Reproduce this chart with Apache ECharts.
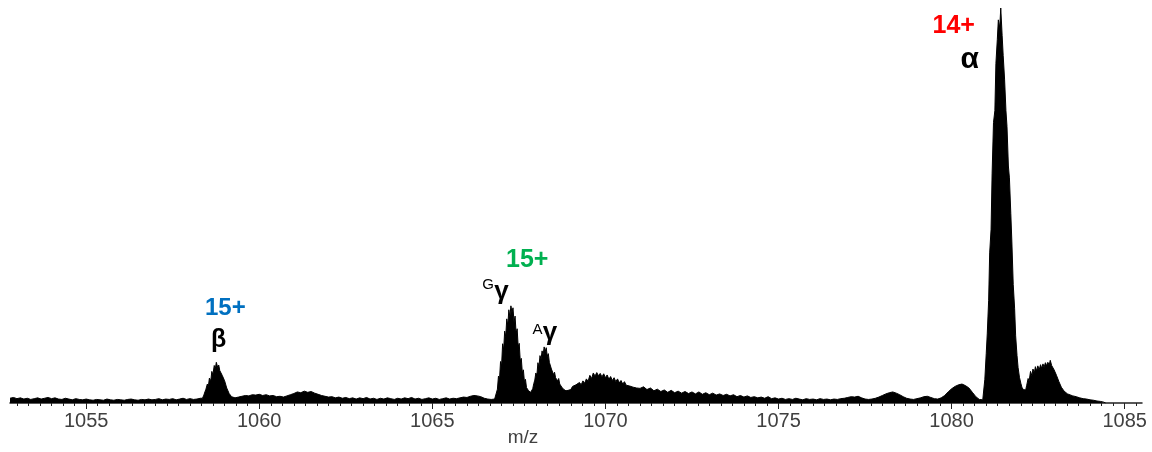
<!DOCTYPE html>
<html>
<head>
<meta charset="utf-8">
<script src="https://cdn.jsdelivr.net/npm/echarts@6/dist/echarts.min.js"></script>
<style>
  html, body { margin: 0; padding: 0; background: #ffffff; }
  #chart { width: 1152px; height: 452px; }
</style>
</head>
<body>
<div id="chart"></div>
<script>
// Mass spectrum of globin chains: [m/z, relative intensity (%)]
const baselineLeft = [
  [1052.8,1.2],[1052.9,1.4],[1053.0,1.1],[1053.1,1.3],[1053.2,1.0],[1053.3,1.2],[1053.4,0.9],[1053.5,1.1],
  [1053.6,1.3],[1053.7,1.0],[1053.8,1.2],[1053.9,1.4],[1054.0,1.1],[1054.1,1.3],[1054.2,1.0],[1054.3,0.9],
  [1054.4,1.2],[1054.5,1.0],[1054.6,0.8],[1054.7,1.1],[1054.8,0.9],[1054.9,0.8],[1055.0,1.0],[1055.1,0.8],
  [1055.2,0.7],[1055.3,0.9],[1055.4,0.8],[1055.5,0.7],[1055.6,1.0],[1055.7,0.8],[1055.8,0.7],[1055.9,0.9],
  [1056.0,0.8],[1056.1,0.7],[1056.2,0.9],[1056.3,1.0],[1056.4,0.8],[1056.5,0.7],[1056.6,0.9],[1056.7,0.8],
  [1056.8,1.0],[1056.9,0.8],[1057.0,0.9],[1057.1,1.1],[1057.2,0.8],[1057.3,1.0],[1057.4,0.9],[1057.5,1.1],
  [1057.6,0.8],[1057.7,1.0],[1057.8,1.2],[1057.9,0.9],[1058.0,1.1],[1058.1,0.9],[1058.2,1.0],[1058.3,1.2]
];

// beta chain, 15+
const betaPeak = [
  [1058.36,1.2],[1058.40,2.0],[1058.43,2.8],[1058.46,3.5],[1058.50,4.8],[1058.53,4.2],[1058.56,6.3],
  [1058.60,5.6],[1058.63,8.0],[1058.66,7.1],[1058.70,9.5],[1058.73,8.6],[1058.76,10.3],[1058.80,9.0],
  [1058.83,9.6],[1058.86,8.2],[1058.90,8.6],[1058.93,7.0],[1058.96,7.3],[1059.00,5.6],[1059.03,5.2],
  [1059.06,3.8],[1059.10,3.4],[1059.13,2.4],[1059.16,2.2],[1059.20,1.6],[1059.25,1.3]
];

const baselineMid = [
  [1059.3,1.3],[1059.4,1.5],[1059.5,1.7],[1059.6,1.9],[1059.7,1.8],[1059.8,2.1],[1059.9,2.0],[1060.0,2.2],
  [1060.1,1.9],[1060.2,2.1],[1060.3,1.8],[1060.4,1.9],[1060.5,1.6],[1060.6,1.7],[1060.7,1.5],[1060.8,1.8],
  [1060.9,2.1],[1061.0,2.4],[1061.1,2.8],[1061.2,2.6],[1061.3,3.0],[1061.4,2.7],[1061.5,2.9],[1061.6,2.5],
  [1061.7,2.2],[1061.8,1.9],[1061.9,1.7],[1062.0,1.5],[1062.1,1.6],[1062.2,1.3],[1062.3,1.5],[1062.4,1.2],
  [1062.5,1.4],[1062.6,1.1],[1062.7,1.3],[1062.8,1.0],[1062.9,1.3],[1063.0,1.1],[1063.1,1.4],[1063.2,1.0],
  [1063.3,1.2],[1063.4,0.9],[1063.5,1.2],[1063.6,1.0],[1063.7,1.3],[1063.8,1.1],[1063.9,0.9],[1064.0,1.2],
  [1064.1,1.0],[1064.2,1.3],[1064.3,1.1],[1064.4,1.4],[1064.5,1.0],[1064.6,1.2],[1064.7,0.9],[1064.8,1.1],
  [1064.9,1.3],[1065.0,1.0],[1065.1,1.2],[1065.2,0.9],[1065.3,1.1],[1065.4,1.3],[1065.5,1.0],[1065.6,1.2],
  [1065.7,1.1],[1065.8,1.3],[1065.9,1.5],[1066.0,1.4],[1066.1,1.7],[1066.2,1.9],[1066.3,1.8],[1066.4,1.6],
  [1066.5,1.2],[1066.6,1.0],[1066.7,0.9],[1066.8,1.0]
];

// G-gamma and A-gamma chains, 15+
const gammaPeaks = [
  [1066.85,0.8],[1066.88,3.5],[1066.91,6.8],[1066.94,5.9],[1066.97,10.5],[1067.00,9.4],[1067.03,15.0],
  [1067.06,13.5],[1067.09,18.2],[1067.12,16.8],[1067.15,21.3],[1067.18,19.6],[1067.21,23.6],[1067.24,21.8],
  [1067.27,24.6],[1067.30,22.9],[1067.33,24.1],[1067.36,20.4],[1067.39,22.0],[1067.42,17.6],[1067.45,18.8],
  [1067.48,14.2],[1067.51,15.1],[1067.54,10.6],[1067.57,11.3],[1067.60,7.6],[1067.63,8.4],[1067.66,5.4],
  [1067.69,6.0],[1067.72,3.9],[1067.75,4.3],[1067.78,3.1],[1067.81,3.4],[1067.84,2.7],[1067.87,3.0],
  [1067.90,3.6],[1067.93,4.9],[1067.96,5.8],[1067.99,7.6],[1068.02,7.0],[1068.05,10.2],[1068.08,9.1],
  [1068.11,12.0],[1068.14,11.0],[1068.17,13.2],[1068.20,12.1],[1068.23,14.2],[1068.26,13.0],[1068.29,14.0],
  [1068.32,11.8],[1068.35,12.5],[1068.38,10.3],[1068.41,10.6],[1068.44,8.6],[1068.47,9.0],[1068.50,7.2],
  [1068.53,7.8],[1068.56,6.4],[1068.59,6.9],[1068.62,5.6],[1068.65,6.2],[1068.68,4.8],[1068.71,5.0],
  [1068.74,4.0],[1068.77,4.3],[1068.80,3.4],[1068.83,3.7],[1068.86,3.1],[1068.89,3.5],[1068.92,3.2],
  [1068.95,3.7]
];

const adductHump = [
  [1069.00,3.4],[1069.05,4.2],[1069.10,3.7],[1069.15,4.6],[1069.20,4.1],[1069.25,5.2],[1069.30,4.6],
  [1069.35,5.6],[1069.40,5.0],[1069.45,6.1],[1069.50,5.5],[1069.55,7.0],[1069.60,6.2],[1069.65,7.6],
  [1069.70,6.8],[1069.75,7.7],[1069.80,6.9],[1069.85,7.5],[1069.90,6.6],[1069.95,7.4],[1070.00,6.4],
  [1070.05,7.1],[1070.10,6.0],[1070.15,6.7],[1070.20,5.7],[1070.25,6.4],[1070.30,5.4],[1070.35,6.1],
  [1070.40,5.1],[1070.45,5.7],[1070.50,4.8],[1070.55,5.4],[1070.60,4.5],[1070.65,5.0],[1070.70,4.3],
  [1070.75,4.8],[1070.80,4.0],[1070.85,4.5],[1070.90,3.8],[1070.95,4.2]
];

const baselineRight = [
  [1071.0,3.7],[1071.1,4.1],[1071.2,3.4],[1071.3,3.8],[1071.4,3.1],[1071.5,3.5],[1071.6,2.9],[1071.7,3.3],
  [1071.8,2.7],[1071.9,3.2],[1072.0,2.6],[1072.1,3.0],[1072.2,2.5],[1072.3,2.9],[1072.4,2.4],[1072.5,2.8],
  [1072.6,2.3],[1072.7,2.8],[1072.8,2.2],[1072.9,2.6],[1073.0,2.1],[1073.1,2.5],[1073.2,2.0],[1073.3,2.3],
  [1073.4,1.9],[1073.5,2.2],[1073.6,1.8],[1073.7,2.1],[1073.8,1.6],[1073.9,1.9],[1074.0,1.5],[1074.1,1.8],
  [1074.2,1.4],[1074.3,1.6],[1074.4,1.3],[1074.5,1.5],[1074.6,1.2],[1074.7,1.6],[1074.8,1.1],[1074.9,1.3],
  [1075.0,1.0],[1075.1,1.2],[1075.2,0.9],[1075.3,1.1],[1075.4,0.9],[1075.5,1.2],[1075.6,1.0],[1075.7,0.8],
  [1075.8,1.1],[1075.9,0.9],[1076.0,1.0],[1076.1,0.8],[1076.2,1.1],[1076.3,0.9],[1076.4,1.0],[1076.5,0.8],
  [1076.6,1.0],[1076.7,0.9],[1076.8,1.1],[1076.9,1.2],[1077.0,1.4],[1077.1,1.6],[1077.2,1.5],[1077.3,1.7],
  [1077.4,1.3],[1077.5,1.0],[1077.6,0.9],[1077.7,1.0],[1077.8,1.2],[1077.9,1.5],[1078.0,1.9],[1078.1,2.3],
  [1078.2,2.6],[1078.3,2.8],[1078.4,2.5],[1078.5,2.1],[1078.6,1.6],[1078.7,1.2],[1078.8,1.0],[1078.9,0.9],
  [1079.0,1.1],[1079.1,1.3],[1079.2,1.6],[1079.3,1.7],[1079.4,1.4],[1079.5,1.1],[1079.6,1.0],[1079.7,1.3],
  [1079.8,1.9],[1079.9,2.8],[1080.0,3.6],[1080.1,4.2],[1080.2,4.6],[1080.3,4.8],[1080.4,4.4],[1080.5,3.8],
  [1080.6,2.7],[1080.7,1.6],[1080.8,0.9],[1080.9,0.8]
];

// alpha chain, 14+, with its adduct shoulder
const alphaPeak = [
  [1080.93,1.0],[1080.96,6.0],[1081.00,12.5],[1081.03,17.5],[1081.07,26.0],[1081.10,38.0],[1081.14,44.0],
  [1081.17,58.0],[1081.21,71.0],[1081.25,74.0],[1081.28,86.0],[1081.32,92.0],[1081.35,97.0],[1081.39,95.0],
  [1081.42,100.0],[1081.46,93.0],[1081.49,88.0],[1081.53,82.0],[1081.57,74.0],[1081.60,70.0],[1081.64,60.0],
  [1081.67,57.0],[1081.71,48.0],[1081.74,41.0],[1081.78,30.0],[1081.82,24.0],[1081.85,17.0],[1081.89,12.0],
  [1081.92,9.0],[1081.96,6.5],[1082.00,5.0],[1082.03,4.0],[1082.07,3.4],[1082.10,3.0],[1082.14,3.3],
  [1082.17,4.5],[1082.21,6.2],[1082.24,5.6],[1082.28,8.0],[1082.32,6.9],[1082.35,8.6],[1082.39,7.6],
  [1082.42,9.2],[1082.46,8.1],[1082.49,9.4],[1082.53,8.4],[1082.57,9.7],[1082.60,8.8],[1082.64,9.9],
  [1082.67,9.0],[1082.71,10.2],[1082.74,9.4],[1082.78,10.3],[1082.82,9.6],[1082.85,10.8],[1082.89,9.5],
  [1082.92,9.6],[1082.96,8.4],[1082.99,8.0],[1083.03,7.0],[1083.07,6.5],[1083.10,5.4],[1083.14,4.9],
  [1083.17,4.0],[1083.21,3.5],[1083.25,3.0],[1083.30,2.6],[1083.35,2.3],[1083.40,2.0],[1083.50,1.8],
  [1083.60,1.6],[1083.70,1.3],[1083.80,1.1],[1083.90,1.0],[1084.00,0.8],[1084.10,0.7],[1084.20,0.5],
  [1084.30,0.4],[1084.40,0.2],[1084.45,0.0]
];

const tickLabels = [1055, 1060, 1065, 1070, 1075, 1080, 1085];
const axisName = 'm/z';

const spectrum = [].concat(baselineLeft, betaPeak, baselineMid, gammaPeaks,
                           adductHump, baselineRight, alphaPeak);

const X_MIN = 1052.8, X_MAX = 1085.5;

// minor ticks every 1/3 m/z between the labelled ticks
const minorTicks = [];
for (let k = -6; k <= 91; k++) {
  if (k % 15 === 0) continue;
  const v = Math.round((1055 + k / 3) * 1000) / 1000;
  if (v > X_MIN && v < X_MAX) minorTicks.push(v);
}

const FONT = '"Liberation Sans", Arial, sans-serif';
const RED = '#ff0000', GREEN = '#00b050', BLUE = '#0070c0';

// annotation anchors in data coordinates
function note(mz, inten, text, color, size, weight) {
  return {
    value: [mz, inten],
    label: {
      show: true, position: 'inside', formatter: text,
      color: color, fontSize: size, fontWeight: weight, fontFamily: FONT, opacity: 1
    }
  };
}
const notes = [
  note(1080.06, 95.4, '14+', RED, 25, 'bold'),
  note(1080.52, 87.0, 'α', '#000', 30, 'bold'),
  note(1067.74, 36.2, '15+', GREEN, 25, 'bold'),
  note(1066.61, 29.85, 'G', '#000', 15, 'normal'),
  note(1066.995, 28.2, 'γ', '#000', 26, 'bold'),
  note(1068.04, 18.5, 'A', '#000', 15, 'normal'),
  note(1068.40, 17.85, 'γ', '#000', 26, 'bold'),
  note(1059.02, 23.9, '15+', BLUE, 24, 'bold'),
  note(1058.83, 16.0, 'β', '#000', 25, 'bold')
];

const chart = echarts.init(document.getElementById('chart'), null, { renderer: 'canvas' });
chart.setOption({
  animation: false,
  backgroundColor: '#ffffff',
  grid: { left: 10, right: 10, top: 8, bottom: 49, containLabel: false, outerBoundsMode: 'none' },
  xAxis: [
    {
      type: 'value', min: X_MIN, max: X_MAX,
      name: axisName, nameLocation: 'middle', nameGap: 25, nameMoveOverlap: false,
      nameTextStyle: { color: '#404040', fontSize: 19, fontFamily: FONT, padding: [0, 106, 0, 0] },
      axisLine: { show: true, onZero: false, lineStyle: { color: '#222', width: 1.5 } },
      axisTick: { show: true, customValues: tickLabels, length: 6, lineStyle: { color: '#222', width: 1 } },
      axisLabel: {
        show: true, customValues: tickLabels, margin: 8, color: '#404040', fontSize: 20, fontFamily: FONT,
        formatter: v => String(Math.round(v))
      },
      splitLine: { show: false }
    },
    {
      type: 'value', min: X_MIN, max: X_MAX, position: 'bottom', gridIndex: 0,
      axisLine: { show: false },
      axisTick: { show: true, customValues: minorTicks, length: 3, lineStyle: { color: '#222', width: 1 } },
      axisLabel: { show: false },
      splitLine: { show: false }
    }
  ],
  yAxis: { type: 'value', min: 0, max: 100, show: false },
  series: [
    {
      type: 'line', data: spectrum, xAxisIndex: 0,
      showSymbol: false, symbol: 'none', sampling: false,
      lineStyle: { color: '#000', width: 1 },
      areaStyle: { color: '#000', opacity: 1 },
      silent: true, z: 2
    },
    {
      type: 'scatter', data: notes, xAxisIndex: 0,
      symbolSize: 0, silent: true, z: 5, clip: false,
      itemStyle: { opacity: 1 }
    }
  ]
});
</script>
</body>
</html>
